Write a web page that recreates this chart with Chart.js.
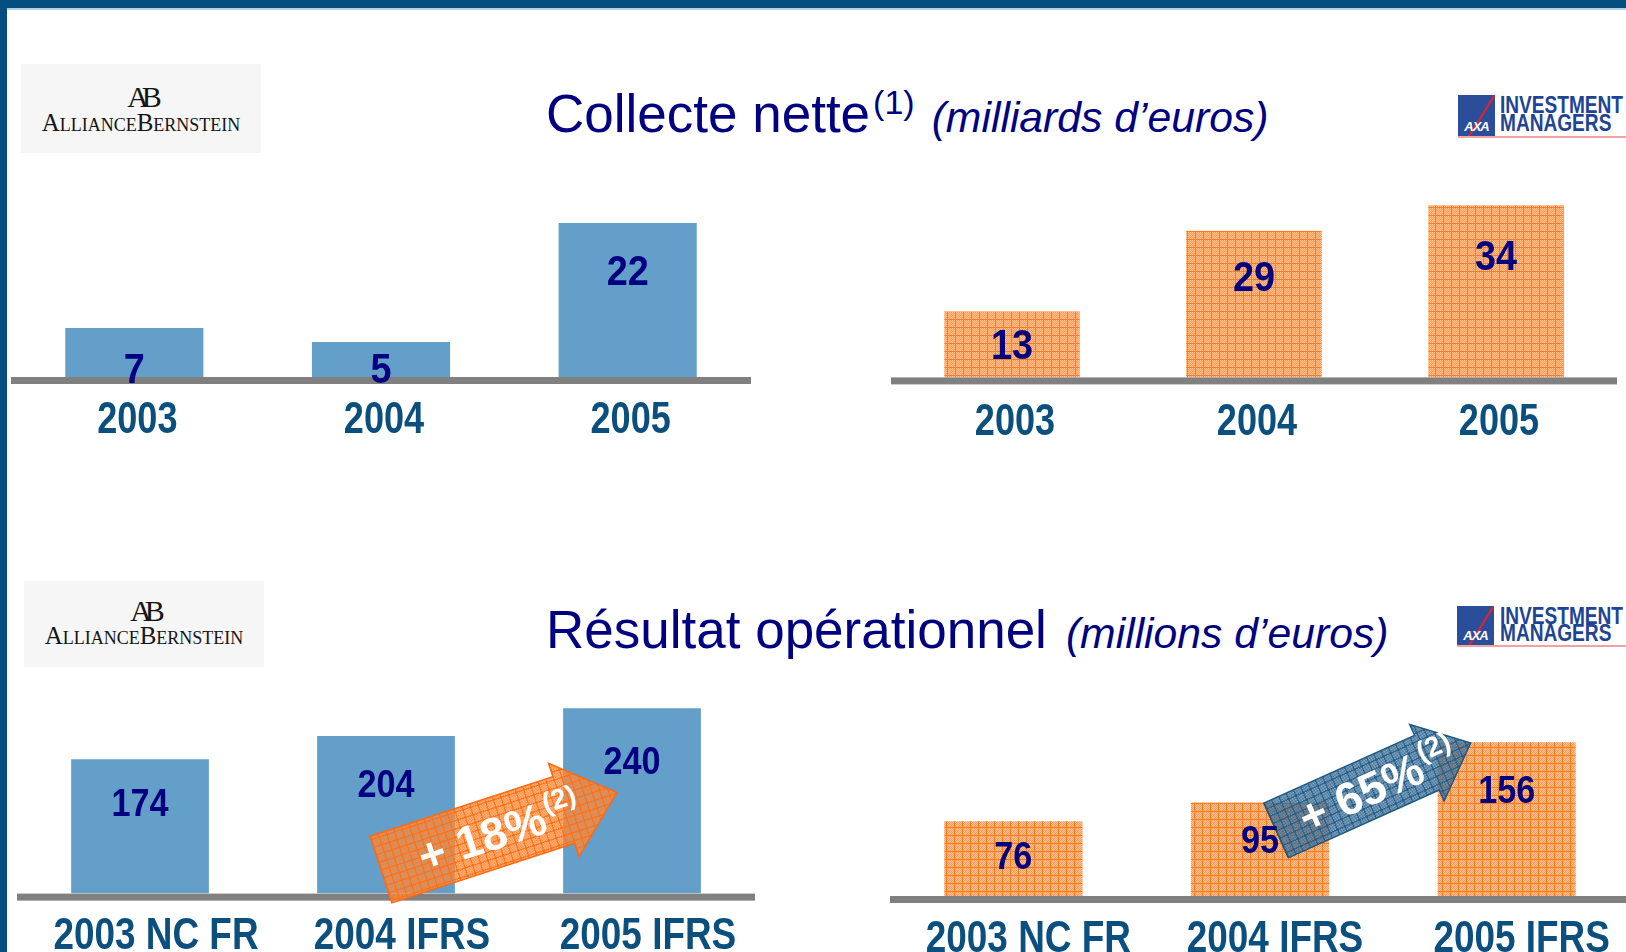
<!DOCTYPE html>
<html><head><meta charset="utf-8">
<script src="https://cdn.jsdelivr.net/npm/chart.js@4/dist/chart.umd.min.js"></script>
<style>
html,body{margin:0;padding:0;width:1626px;height:952px;overflow:hidden;background:#fff;}
body{position:relative;}
.abs{position:absolute;}
#frameTop{left:0;top:0;width:1626px;height:8px;background:#054E80;}
#frameTopLine{left:7px;top:8px;width:1619px;height:2px;background:#B3D1E6;}
#frameLeft{left:0;top:0;width:7px;height:952px;background:#054E80;}
.title{position:absolute;white-space:nowrap;font-family:"Liberation Sans",Arial,sans-serif;color:#000080;line-height:60px;height:60px;}
.title .main{font-size:53px;}
.title .sup{font-size:34px;position:relative;top:-18px;margin-left:3px;}
.title .it{font-size:42.7px;font-style:italic;margin-left:17px;}
.ab{position:absolute;background:#F6F6F6;}
.abmono{position:absolute;left:0;width:100%;text-align:center;font-family:"Liberation Serif",serif;font-size:30px;line-height:30px;letter-spacing:-7px;color:#151515;}
.abword{position:absolute;left:0;width:100%;text-align:center;font-family:"Liberation Serif",serif;font-size:25px;line-height:25px;font-variant:small-caps;color:#151515;}
.axsq{position:absolute;width:37px;background:#2B4E9B;overflow:hidden;}
.axsq .sl{position:absolute;left:22px;top:-6px;width:2px;height:56px;background:#E2232A;transform:rotate(32deg);}
.axsq .tx{position:absolute;left:0;bottom:2px;width:100%;text-align:center;color:#fff;font:italic bold 13px "Liberation Sans",sans-serif;letter-spacing:-1px;}
.axw{position:absolute;white-space:nowrap;font-family:"Liberation Sans",sans-serif;font-weight:bold;font-size:23px;line-height:23px;color:#1F4496;transform:scaleX(0.83);transform-origin:0 0;}
.axline{position:absolute;height:2px;background:#EFA3A3;}
canvas{position:absolute;}
</style>
</head><body>
<div id="frameTop" class="abs"></div>
<div id="frameTopLine" class="abs"></div>
<div id="frameLeft" class="abs"></div>

<div class="title" style="left:546px;top:84px;"><span class="main">Collecte nette</span><span class="sup">(1)</span><span class="it">(milliards d’euros)</span></div>
<div class="title" style="left:546px;top:600px;"><span class="main">Résultat opérationnel</span><span class="it" style="margin-left:19px">(millions d’euros)</span></div>

<div class="ab" style="left:21px;top:64px;width:240px;height:89px;">
  <div class="abmono" style="top:18px;">AB</div>
  <div class="abword" style="top:46px;">AllianceBernstein</div>
</div>
<div class="ab" style="left:24px;top:581px;width:240px;height:86px;">
  <div class="abmono" style="top:15px;">AB</div>
  <div class="abword" style="top:42px;">AllianceBernstein</div>
</div>

<div class="axsq" style="left:1458px;top:95px;height:41px;"><div class="sl"></div><div class="tx">AXA</div></div>
<div class="axw" style="left:1500px;top:94px;">INVESTMENT</div>
<div class="axw" style="left:1500px;top:112px;">MANAGERS</div>
<div class="axline" style="left:1458px;top:136px;width:168px;"></div>

<div class="axsq" style="left:1457px;top:606px;height:39px;"><div class="sl"></div><div class="tx">AXA</div></div>
<div class="axw" style="left:1500px;top:605px;">INVESTMENT</div>
<div class="axw" style="left:1500px;top:622px;">MANAGERS</div>
<div class="axline" style="left:1457px;top:645px;width:169px;"></div>

<canvas id="cTL"></canvas>
<canvas id="cTR"></canvas>
<canvas id="cBL"></canvas>
<canvas id="cBR"></canvas>

<script>
// ---- data ----
const yearsTop = ['2003', '2004', '2005'];
const yearsBottom = ['2003 NC FR', '2004 IFRS', '2005 IFRS'];
const collecteAB = [7, 5, 22];
const collecteAXA = [13, 29, 34];
const resultatAB = [174, 204, 240];
const resultatAXA = [76, 95, 156];
const growthAB = '+ 18%';
const growthAXA = '+ 65%';
const growthNote = '(2)';

// ---- styles ----
const BASE = '"Liberation Sans", Arial, sans-serif';
const TICK_COLOR = '#0B4F7F';
const VALUE_COLOR = '#000080';
const BLUE = '#649FCA';
const NARROW_SCALE = 0.82;

function tile(draw) {
  const c = document.createElement('canvas'); c.width = 8; c.height = 8;
  const g = c.getContext('2d'); draw(g);
  return g.createPattern(c, 'repeat');
}
const orangeBar = tile(g => {
  g.fillStyle = '#FF9B55'; g.fillRect(0, 0, 8, 8);
  g.fillStyle = '#FFC293';
  for (let y = 0; y < 8; y++) for (let x = 0; x < 8; x++) if ((x + y) % 2 === 0) g.fillRect(x, y, 1, 1);
  g.fillStyle = '#FF7A22'; g.fillRect(0, 0, 8, 1); g.fillRect(0, 0, 1, 8);
});
const orangeArrow = tile(g => {
  g.fillStyle = 'rgba(255,140,60,0.55)'; g.fillRect(0, 0, 8, 8);
  g.fillStyle = '#FF8533';
  for (let y = 0; y < 8; y++) for (let x = 0; x < 8; x++) if ((x + y) % 2 === 0) g.fillRect(x, y, 1, 1);
  g.fillStyle = '#FF6E10'; g.fillRect(0, 0, 8, 1); g.fillRect(0, 0, 1, 8);
});
const blueArrow = tile(g => {
  g.fillStyle = 'rgba(70,120,160,0.6)'; g.fillRect(0, 0, 8, 8);
  g.fillStyle = '#3A6F97';
  for (let y = 0; y < 8; y++) for (let x = 0; x < 8; x++) if ((x + y) % 2 === 0) g.fillRect(x, y, 1, 1);
  g.fillStyle = '#245A83'; g.fillRect(0, 0, 8, 1); g.fillRect(0, 0, 1, 8);
});

function narrowText(ctx, txt, cx, baseline, size, scale) {
  ctx.font = 'bold ' + size + 'px ' + BASE;
  const w = ctx.measureText(txt).width * scale;
  ctx.save();
  ctx.translate(cx - w / 2, baseline);
  ctx.scale(scale, 1);
  ctx.fillText(txt, 0, 0);
  ctx.restore();
}

function drawArrow(ctx, chart, a) {
  const meta = chart.getDatasetMeta(0);
  const zero = chart.scales.y.getPixelForValue(0);
  const b1 = meta.data[a.from], b2 = meta.data[a.to];
  const tx = b1.x + a.tail[0], ty = zero + a.tail[1];
  const px = b2.x + a.tip[0], py = zero + a.tip[1];
  const len = Math.hypot(px - tx, py - ty);
  const ang = Math.atan2(py - ty, px - tx);
  ctx.save();
  ctx.translate(tx, ty); ctx.rotate(ang);
  const hs = a.halfShaft, hh = a.halfHead, neck = len - a.headLen;
  ctx.beginPath();
  ctx.moveTo(0, -hs); ctx.lineTo(neck, -hs); ctx.lineTo(neck, -hh); ctx.lineTo(len, 0);
  ctx.lineTo(neck, hh); ctx.lineTo(neck, hs); ctx.lineTo(0, hs); ctx.closePath();
  ctx.fillStyle = a.fill; ctx.fill();
  ctx.lineWidth = 1.5; ctx.strokeStyle = a.stroke; ctx.stroke();
  ctx.fillStyle = '#fff';
  ctx.font = 'bold ' + a.size + 'px ' + BASE;
  const w1 = ctx.measureText(a.text).width;
  ctx.font = 'bold ' + a.supSize + 'px ' + BASE;
  const w2 = ctx.measureText(growthNote).width;
  const cx = len * a.at, x0 = cx - (w1 + w2 + 2) / 2;
  ctx.textBaseline = 'alphabetic';
  const base = a.size * 0.36;
  ctx.font = 'bold ' + a.size + 'px ' + BASE;
  ctx.fillText(a.text, x0, base);
  ctx.font = 'bold ' + a.supSize + 'px ' + BASE;
  ctx.fillText(growthNote, x0 + w1 + 2, base - a.size * 0.42);
  ctx.restore();
}

const decor = {
  id: 'decor',
  afterDatasetsDraw(chart, args, o) {
    const ctx = chart.ctx, ca = chart.chartArea;
    const zero = chart.scales.y.getPixelForValue(0);
    ctx.save();
    ctx.fillStyle = '#808080';
    ctx.fillRect(ca.left, zero, ca.right - ca.left, 7);
    ctx.restore();
    if (o.arrow) drawArrow(ctx, chart, o.arrow);
    // value labels
    const meta = chart.getDatasetMeta(0);
    const vals = chart.data.datasets[0].data;
    ctx.save();
    ctx.fillStyle = VALUE_COLOR;
    ctx.textBaseline = 'alphabetic';
    meta.data.forEach((bar, i) => {
      const h = zero - bar.y;
      const cy = h < 55 ? zero - 9 : bar.y + 22 + 0.16 * h;
      narrowText(ctx, String(vals[i]), bar.x, cy + o.valueSize * 0.358, o.valueSize, 0.9);
    });
    // category labels along the x scale
    const xs = chart.scales.x;
    ctx.fillStyle = TICK_COLOR;
    chart.data.labels.forEach((lab, i) => {
      const x = xs.getPixelForValue(i) + (o.labelOffset || 0);
      narrowText(ctx, lab, x, zero + o.labelGap + o.tickSize * 0.358, o.tickSize, NARROW_SCALE);
    });
    ctx.restore();
  }
};

function makeChart(id, spec) {
  const cv = document.getElementById(id);
  const areaH = spec.yMax * spec.ppu;
  const axisH = 70;
  const H = Math.round(areaH + axisH);
  cv.width = spec.width; cv.height = H;
  cv.style.left = spec.left + 'px';
  cv.style.top = (spec.zero - areaH) + 'px';
  cv.style.width = spec.width + 'px'; cv.style.height = H + 'px';
  return new Chart(cv, {
    type: 'bar',
    data: {
      labels: spec.labels,
      datasets: [{ data: spec.values, backgroundColor: spec.fill, borderWidth: 0,
        barPercentage: 0.56, categoryPercentage: 1 }]
    },
    options: {
      responsive: false, animation: false, events: [],
      layout: { padding: { left: 0, right: 0, top: 0, bottom: H - areaH } },
      plugins: { legend: { display: false }, tooltip: { enabled: false },
        decor: { valueSize: spec.valueSize, arrow: spec.arrow, tickSize: spec.tickSize,
          labelGap: spec.labelGap, labelOffset: spec.labelOffset } },
      scales: {
        x: { display: false, offset: true },
        y: { display: false, min: 0, max: spec.yMax }
      }
    },
    plugins: [decor]
  });
}

makeChart('cTL', { labels: yearsTop, values: collecteAB, fill: BLUE,
  left: 11, width: 740, zero: 377, ppu: 7.0, yMax: 30, tickSize: 44, labelGap: 40, labelOffset: 3, valueSize: 42 });
makeChart('cTR', { labels: yearsTop, values: collecteAXA, fill: orangeBar,
  left: 891, width: 726, zero: 377, ppu: 5.06, yMax: 40, tickSize: 44, labelGap: 42, labelOffset: 3, valueSize: 42 });
makeChart('cBL', { labels: yearsBottom, values: resultatAB, fill: BLUE,
  left: 17, width: 738, zero: 894, ppu: 0.772, yMax: 300, tickSize: 45, labelGap: 39.5, labelOffset: 16, valueSize: 38,
  arrow: { from: 1, to: 2, tail: [-5, -24], tip: [-15, -101], halfShaft: 35, halfHead: 49, headLen: 56,
    fill: orangeArrow, stroke: '#FF6A10', text: growthAB, size: 46, supSize: 28, at: 0.5 } });
makeChart('cBR', { labels: yearsBottom, values: resultatAXA, fill: orangeBar,
  left: 890, width: 740, zero: 896, ppu: 0.985, yMax: 200, tickSize: 45, labelGap: 39.5, labelOffset: 15, valueSize: 38,
  arrow: { from: 1, to: 2, tail: [16, -65.5], tip: [-36, -153], halfShaft: 30, halfHead: 42, headLen: 48,
    fill: blueArrow, stroke: '#1D5880', text: growthAXA, size: 46, supSize: 28, at: 0.52 } });
</script>
</body></html>
